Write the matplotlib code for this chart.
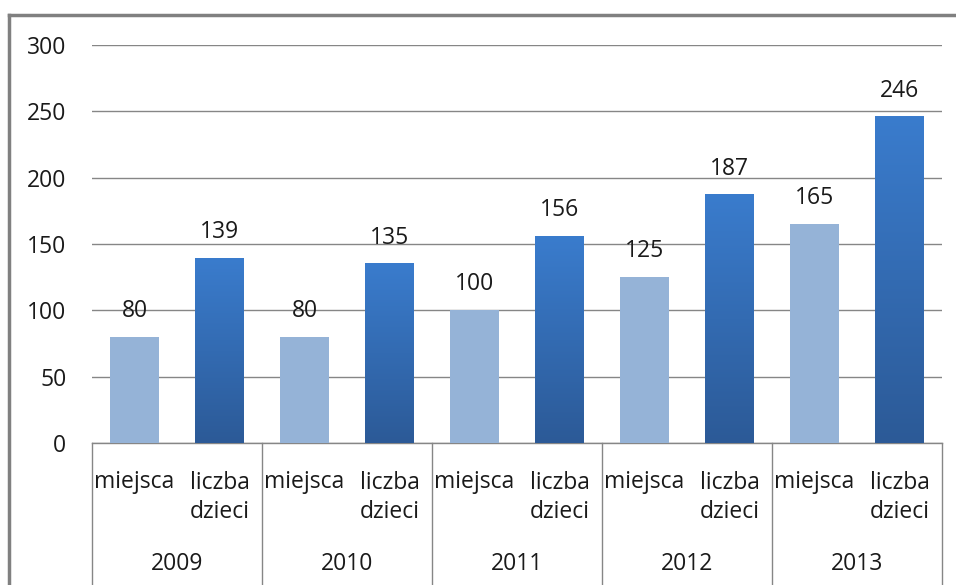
import numpy as np
import matplotlib.pyplot as plt
from matplotlib.colors import LinearSegmentedColormap
from matplotlib.lines import Line2D

plt.rcParams['font.family'] = ['Open Sans', 'DejaVu Sans']

lata = ['2009', '2010', '2011', '2012', '2013']
kategorie = ['miejsca', 'liczba\ndzieci']
miejsca = [80, 80, 100, 125, 165]
dzieci = [139, 135, 156, 187, 246]

kolor_jasny = '#95B3D7'
gradient = LinearSegmentedColormap.from_list('niebieski', ['#2C5A97', '#3A7CCD'])
szary = '#868686'

fig = plt.figure(figsize=(9.56, 5.85), dpi=100)
ax = fig.add_axes([92/956, 1 - 443/585, 850/956, 398/585])

szer = 0.57
fs = 16.5
for i in range(len(lata)):
    xm = 2*i
    xd = 2*i + 1
    ax.bar(xm, miejsca[i], width=szer, color=kolor_jasny, zorder=3)
    # gradient na słupku "liczba dzieci"
    grad = np.linspace(0, 1, 256).reshape(-1, 1)
    ax.imshow(grad, cmap=gradient, origin='lower', aspect='auto',
              extent=(xd - szer/2, xd + szer/2, 0, dzieci[i]), zorder=3)
    for x, v in [(xm, miejsca[i]), (xd, dzieci[i])]:
        ax.annotate(str(v), (x, v), xytext=(0, 14.5), textcoords='offset points',
                    ha='center', va='baseline', fontsize=fs, color='#1a1a1a')
    # etykiety osi x
    ax.text(xm, -0.113, kategorie[0], transform=ax.get_xaxis_transform(),
            ha='center', va='baseline', fontsize=fs, color='#1a1a1a')
    ax.text(xd, -0.188, kategorie[1], transform=ax.get_xaxis_transform(),
            ha='center', va='baseline', fontsize=fs, color='#1a1a1a',
            linespacing=1.27, multialignment='right')
    ax.text(2*i + 0.5, -0.32, lata[i], transform=ax.get_xaxis_transform(),
            ha='center', va='baseline', fontsize=fs, color='#1a1a1a')

# separatory grup
for g in range(len(lata) + 1):
    ax.plot([2*g - 0.5, 2*g - 0.5], [0, -0.4], transform=ax.get_xaxis_transform(),
            color=szary, lw=1.0, clip_on=False)

ax.set_xlim(-0.5, 2*len(lata) - 0.5)
ax.set_ylim(0, 300)
ax.set_yticks(range(0, 301, 50))
ax.yaxis.grid(True, color=szary, lw=1.0, zorder=0)
ax.set_axisbelow(True)
ax.set_xticks([])
ax.tick_params(axis='y', length=0, pad=18.5, labelsize=fs, labelcolor='#1a1a1a')
for s in ['top', 'right', 'left']:
    ax.spines[s].set_visible(False)
ax.spines['bottom'].set_color(szary)
ax.spines['bottom'].set_linewidth(1.0)

# ramka wykresu
fig.add_artist(Line2D([9/956, 9/956], [0, 1 - 15/585], color='#808080', lw=2.5,
                      transform=fig.transFigure))
fig.add_artist(Line2D([9/956, 1], [1 - 15/585, 1 - 15/585], color='#808080', lw=2.5,
                      transform=fig.transFigure))

fig.savefig('out.png', dpi=100)
